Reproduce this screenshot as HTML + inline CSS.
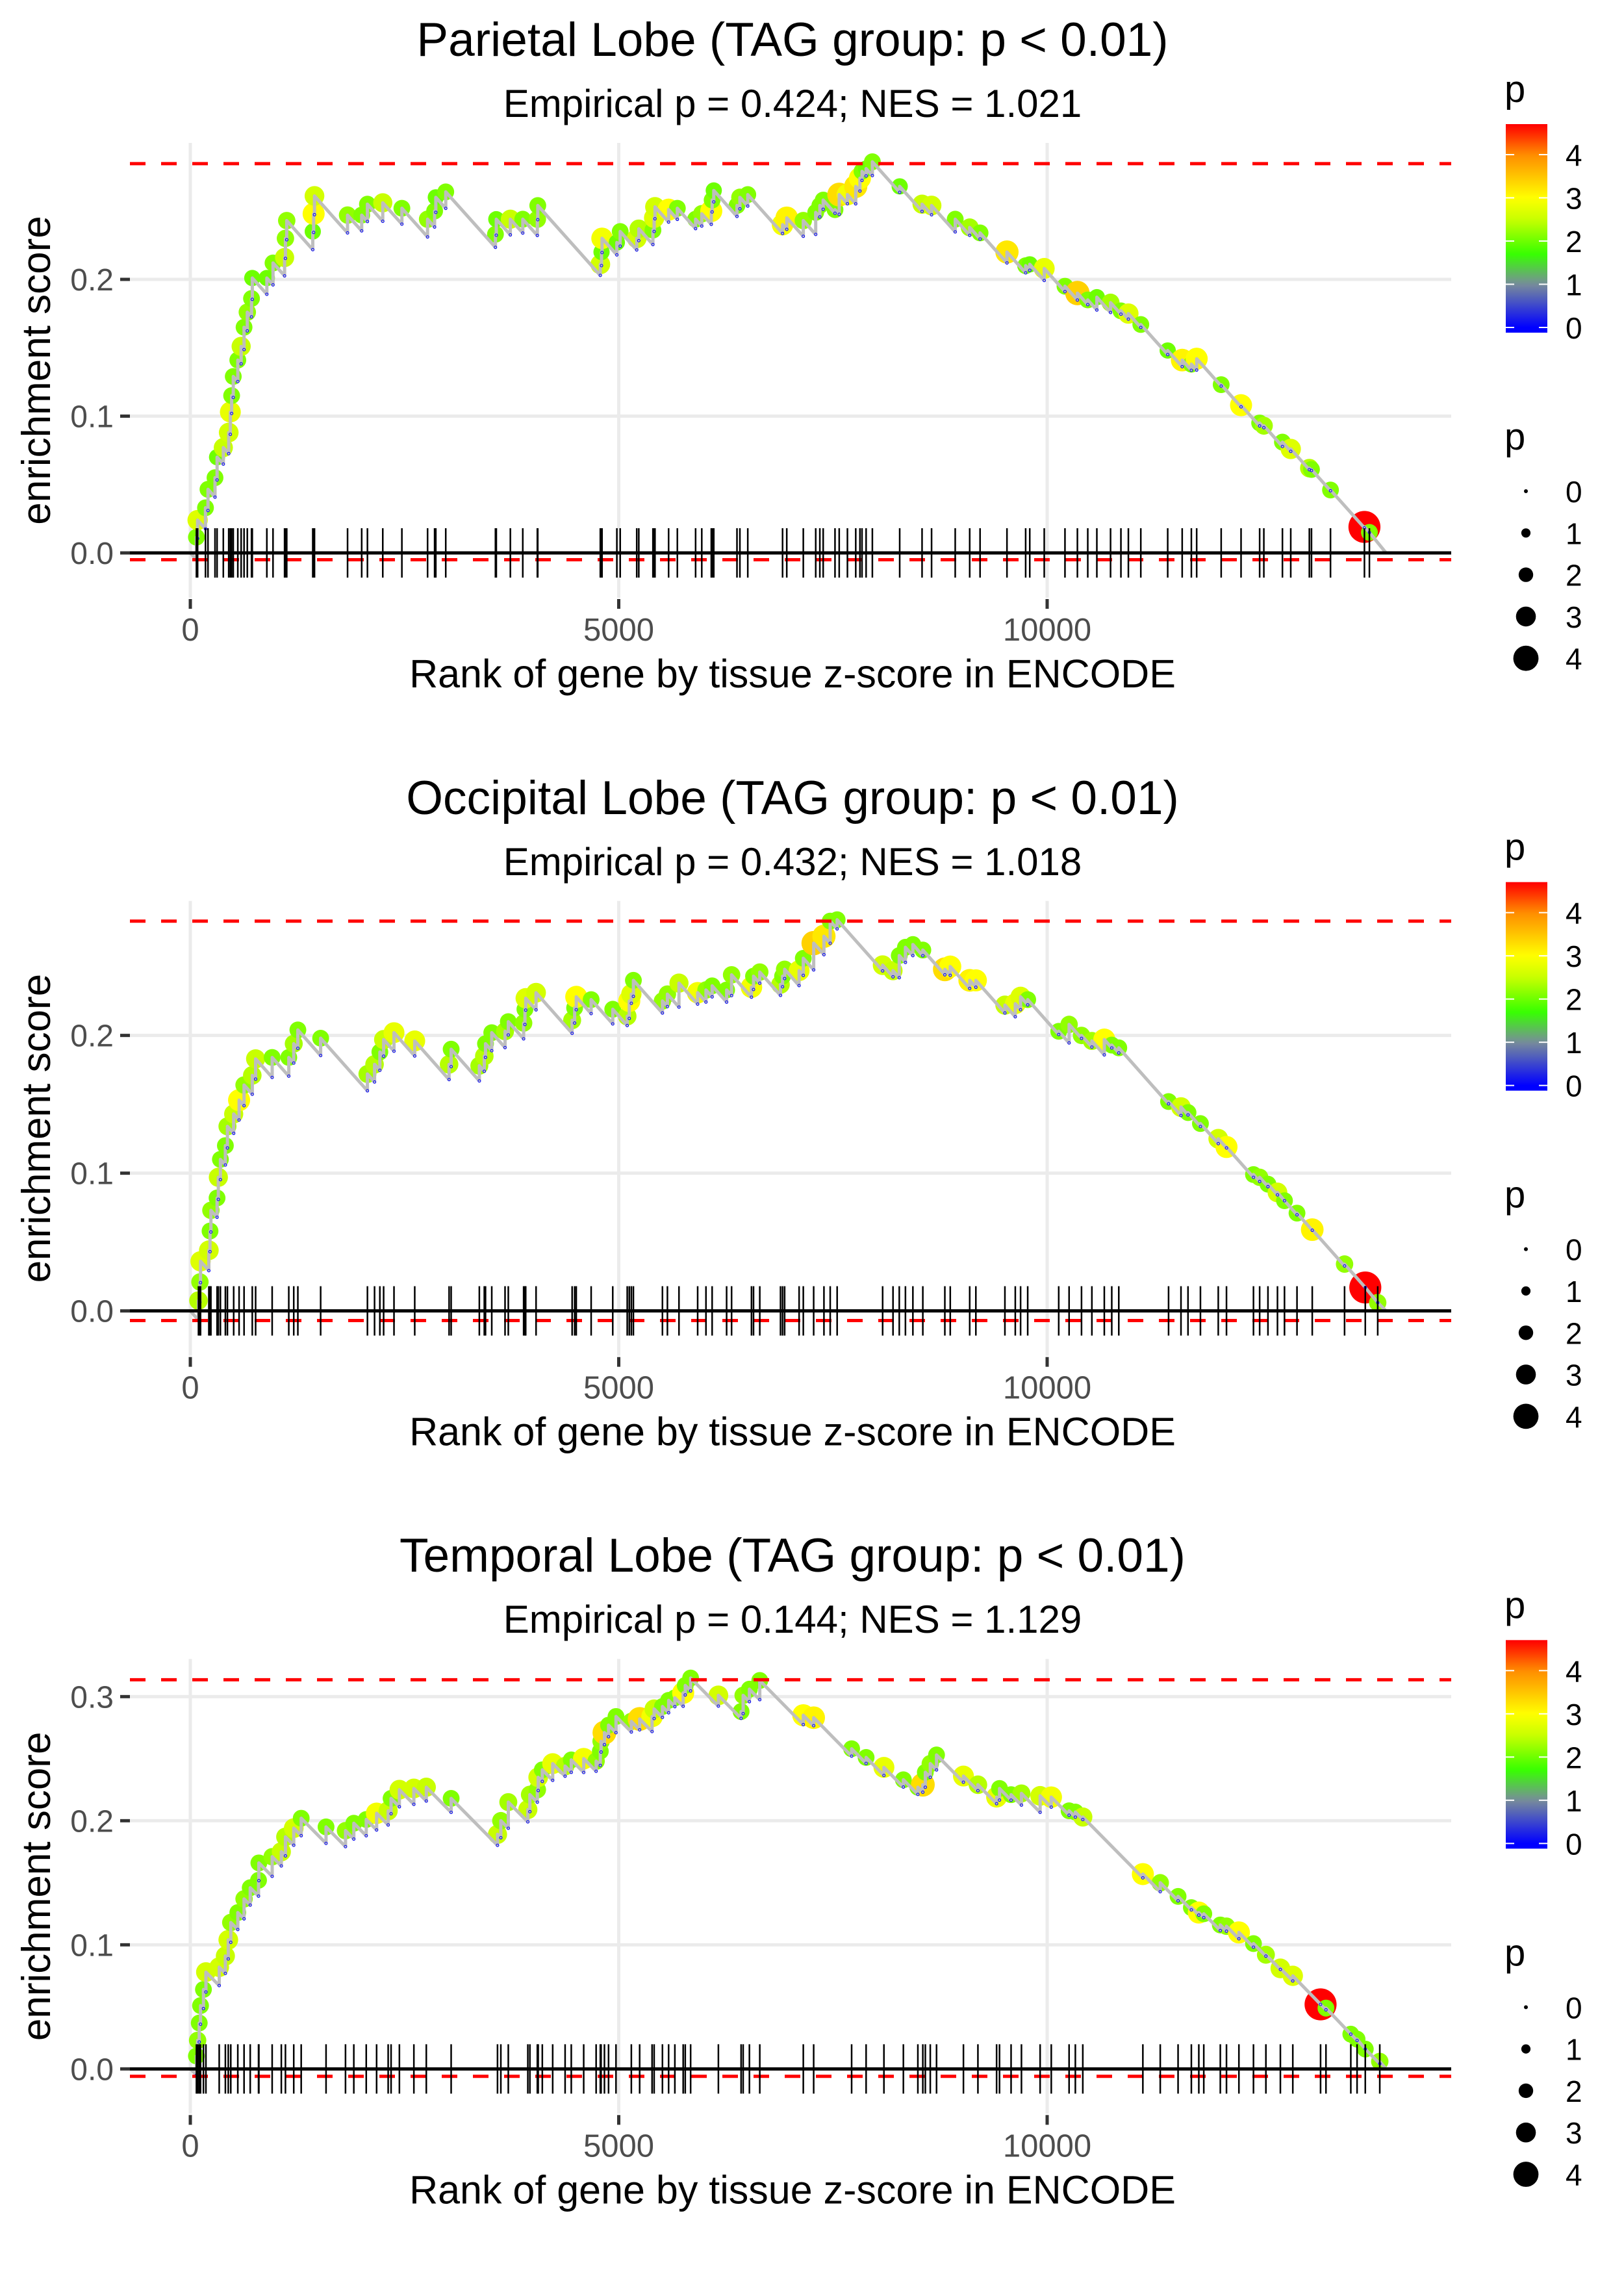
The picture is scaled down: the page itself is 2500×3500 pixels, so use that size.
<!DOCTYPE html>
<html>
<head>
<meta charset="utf-8">
<style>
html,body{margin:0;padding:0;background:#fff;}
svg{display:block;font-family:"Liberation Sans",sans-serif;}
</style>
</head>
<body>
<svg id="chart" xmlns="http://www.w3.org/2000/svg" width="2500" height="3500" viewBox="0 0 2500 3500">
<rect x="0" y="0" width="2500" height="3500" fill="#fff"/>
<text x="1220" y="86" font-size="73" text-anchor="middle">Parietal Lobe (TAG group: p &lt; 0.01)</text>
<text x="1220" y="180" font-size="60" text-anchor="middle">Empirical p = 0.424; NES = 1.021</text>
<text x="1220" y="1253" font-size="73" text-anchor="middle">Occipital Lobe (TAG group: p &lt; 0.01)</text>
<text x="1220" y="1347" font-size="60" text-anchor="middle">Empirical p = 0.432; NES = 1.018</text>
<text x="1220" y="2419" font-size="73" text-anchor="middle">Temporal Lobe (TAG group: p &lt; 0.01)</text>
<text x="1220" y="2513" font-size="60" text-anchor="middle">Empirical p = 0.144; NES = 1.129</text>
</svg>
<script>
// ---------- data ----------
const xTicks = [0, 5000, 10000];
const xTickLabels = ["0", "5000", "10000"];
const p1YTicks = [0, 0.1, 0.2];
const p1YTickLabels = ["0.0", "0.1", "0.2"];
const p2YTicks = [0, 0.1, 0.2];
const p2YTickLabels = ["0.0", "0.1", "0.2"];
const p3YTicks = [0, 0.1, 0.2, 0.3];
const p3YTickLabels = ["0.0", "0.1", "0.2", "0.3"];
const p1Bounds = [0.2846, -0.005];
const p2Bounds = [0.283, -0.007];
const p3Bounds = [0.3136, -0.006];
const p1End = 13955, p2End = 13955, p3End = 13955;
const declineRate = 0.00007;
const legendColorTicks = [0, 1, 2, 3, 4];
const legendSizeValues = [0, 1, 2, 3, 4];

const p1Ranks = [71,85,177,206,288,312,385,448,467,482,
501,554,593,627,665,714,723,893,965,1100,
1110,1125,1429,1439,1449,1835,2000,2067,2246,2469,
2769,2851,2865,2981,3561,3571,3735,3880,4050,4055,
4785,4799,4805,4978,5017,5210,5234,5399,5413,5423,
5582,5684,5897,5969,6080,6090,6109,6380,6414,6506,
6912,6961,7154,7299,7347,7386,7524,7573,7669,7766,
7815,7839,7887,7960,8279,8540,8651,8927,9096,9217,
9531,9749,9797,9966,10208,10353,10474,10580,10740,10861,
10948,11093,11407,11576,11683,11745,12031,12263,12480,12529,
12746,12843,13060,13085,13307,13703,13761];
const p1ES = [.0115,.024,.033,.0465,.055,.070,.077,.088,.103,.115,
.129,.141,.151,.165,.176,.186,.201,.201,.212,.216,
.230,.243,.235,.248,.261,.247,.247,.255,.256,.252,
.244,.250,.260,.264,.233,.244,.244,.244,.244,.254,
.211,.220,.230,.227,.235,.230,.237,.236,.245,.253,
.251,.252,.244,.248,.250,.258,.265,.254,.260,.262,
.240,.245,.243,.249,.254,.258,.251,.262,.262,.268,
.274,.279,.281,.286,.268,.255,.254,.244,.238,.234,
.220,.210,.211,.208,.195,.190,.185,.187,.183,.177,
.175,.167,.148,.141,.138,.142,.123,.108,.095,.093,
.081,.076,.062,.061,.046,.019,.015];
const p1P = [2.1,2.7,2.1,2.1,2.1,2.0,2.5,2.6,2.8,2.1,
2.1,2.1,2.5,2.1,2.2,2.1,2.0,2.0,2.1,2.5,
2.2,2.2,2.0,3.0,2.6,2.2,2.1,2.1,2.5,2.1,
2.2,2.1,2.0,2.1,2.1,2.0,2.5,2.1,2.2,2.1,
2.6,2.0,2.9,2.0,2.1,2.6,2.4,2.1,2.7,2.6,
3.0,2.1,2.1,2.2,3.0,2.1,2.0,2.1,2.2,2.1,
2.9,3.1,2.2,2.1,2.1,2.1,2.1,3.3,2.9,3.2,
3.0,2.1,2.0,2.1,2.0,2.5,2.6,2.1,2.3,2.1,
3.2,2.1,2.0,2.8,2.1,3.4,2.1,2.0,2.3,2.1,
2.7,2.1,2.0,3.1,2.1,3.0,2.1,3.0,2.1,2.3,
2.1,2.7,2.4,2.1,2.1,4.7,2.1];

const p2Ranks = [95,112,119,216,230,240,312,327,351,409,
433,506,569,627,723,762,955,1149,1207,1255,
1521,2067,2150,2212,2256,2377,2619,3020,3044,3373,
3431,3445,3518,3673,3711,3890,3905,3914,4035,4456,
4485,4504,4678,4930,5099,5123,5147,5171,5510,5568,
5703,5921,6018,6090,6259,6317,6549,6573,6646,6888,
6912,6936,7105,7154,7275,7395,7468,7549,8080,8201,
8274,8346,8433,8549,8806,8869,9096,9168,9507,9628,
9690,9773,10135,10256,10401,10522,10667,10754,10836,11417,
11562,11644,11789,11997,12093,12408,12480,12577,12688,12770,
12916,13094,13471,13713,13858];
const p2ES = [.0075,.021,.036,.044,.058,.073,.082,.097,.110,.120,
.134,.143,.153,.164,.171,.183,.184,.184,.194,.204,
.198,.172,.179,.188,.197,.202,.196,.179,.190,.178,
.185,.194,.202,.203,.210,.209,.219,.227,.231,.211,
.220,.228,.226,.219,.214,.225,.230,.240,.225,.230,
.238,.231,.233,.236,.233,.244,.235,.243,.246,.237,
.243,.248,.247,.256,.267,.272,.283,.284,.251,.247,
.258,.264,.266,.262,.248,.250,.240,.240,.222,.223,
.228,.226,.203,.208,.200,.196,.197,.193,.191,.152,
.148,.144,.136,.125,.119,.099,.097,.092,.086,.080,
.071,.059,.034,.017,.006];
const p2P = [2.4,2.2,2.7,2.6,2.1,2.2,2.1,2.5,2.1,2.1,
2.3,2.5,3.0,2.2,2.4,2.5,2.1,2.1,2.3,2.1,
2.1,2.3,2.4,2.1,2.5,2.8,2.8,2.4,2.1,2.3,
2.4,2.1,2.1,2.3,2.1,2.2,2.1,2.7,2.6,2.3,
2.1,3.0,2.1,2.1,2.4,3.0,2.7,2.1,2.2,2.2,
2.5,2.9,2.2,2.1,2.1,2.2,2.9,2.1,2.2,2.4,
2.1,2.2,2.8,2.1,3.4,3.2,2.1,2.1,2.6,2.5,
2.1,2.1,2.1,2.1,3.3,3.0,3.1,3.0,2.5,2.8,
2.7,2.1,2.1,2.2,2.2,2.3,3.0,2.1,2.1,2.1,
2.6,2.1,2.1,2.6,3.0,2.1,2.2,2.1,2.6,2.1,
2.1,3.1,2.2,4.7,2.2];

const p3Ranks = [71,85,104,119,153,182,337,409,443,472,
554,627,699,796,800,955,1062,1110,1207,1294,
1584,1811,1908,2053,2174,2309,2343,2440,2609,2754,
3044,3585,3624,3711,3939,3963,4050,4060,4108,4229,
4374,4446,4591,4736,4785,4794,4833,4881,4968,5147,
5244,5389,5413,5510,5582,5655,5752,5776,5839,6163,
6428,6452,6525,6646,7154,7275,7718,7887,8095,8322,
8491,8549,8578,8636,8709,9023,9192,9410,9444,9579,
9700,9918,10048,10256,10329,10416,11117,11320,11528,11683,
11770,11828,12021,12093,12238,12408,12553,12722,12867,13191,
13254,13544,13617,13713,13882];
const p3ES = [.0104,.023,.037,.051,.064,.078,.082,.091,.104,.118,
.126,.137,.146,.152,.166,.171,.175,.187,.194,.202,
.195,.192,.198,.201,.206,.208,.218,.225,.226,.227,
.218,.189,.200,.215,.209,.221,.225,.235,.241,.246,
.244,.249,.250,.248,.256,.264,.271,.277,.284,.280,
.282,.284,.290,.292,.297,.299,.303,.309,.315,.301,
.288,.301,.306,.313,.285,.283,.258,.251,.243,.233,
.227,.229,.239,.246,.253,.236,.229,.219,.226,.221,
.222,.220,.219,.208,.207,.203,.157,.150,.139,.130,
.126,.125,.116,.115,.110,.101,.092,.081,.075,.052,
.049,.028,.024,.016,.006];
const p3P = [2.1,2.2,2.1,2.1,2.1,2.6,2.6,2.5,2.6,2.2,
2.1,2.2,2.1,2.1,2.1,2.2,2.5,2.4,2.6,2.1,
2.1,2.2,2.1,2.1,2.9,2.5,2.1,2.6,2.6,2.5,
2.1,2.5,2.2,2.3,2.5,2.3,2.2,2.6,2.1,2.8,
2.4,2.1,2.9,2.2,2.1,2.2,3.3,2.1,2.1,2.2,
3.3,2.9,2.5,2.1,2.1,2.1,3.0,2.1,2.1,2.6,
2.1,2.2,2.1,2.1,3.0,3.1,2.1,2.1,2.8,2.1,
2.1,3.3,2.1,2.2,2.1,2.8,2.4,2.8,2.1,2.1,
2.3,2.6,2.9,2.1,2.1,2.5,3.0,2.2,2.1,2.1,
3.0,2.1,2.1,2.2,3.0,2.1,2.3,2.6,2.7,4.7,
2.1,2.1,2.1,2.1,2.2];

// ---------- drawing ----------
const NS = "http://www.w3.org/2000/svg";
const svg = document.getElementById("chart");
const PLOT_L = 200, PLOT_R = 2234, PLOT_T = 220, PLOT_B = 920, ZERO_Y = 851;
const PANEL_H = 3500 / 3;

function mk(tag, attrs, parent) {
  const el = document.createElementNS(NS, tag);
  for (const k in attrs) el.setAttribute(k, attrs[k]);
  (parent || svg).appendChild(el);
  return el;
}
const colorStops = [[0,[0,0,255]],[1,[120,140,155]],[1.7,[55,255,0]],[2.5,[200,255,0]],[3,[255,255,0]],[4,[255,140,0]],[4.7,[255,0,0]]];
function pColor(p) {
  if (p <= colorStops[0][0]) return "rgb(0,0,255)";
  for (let i = 1; i < colorStops.length; i++) {
    if (p <= colorStops[i][0]) {
      const a = colorStops[i-1], b = colorStops[i];
      const t = (p - a[0]) / (b[0] - a[0]);
      const c = a[1].map((v, j) => Math.round(v + (b[1][j] - v) * t));
      return "rgb(" + c.join(",") + ")";
    }
  }
  return "rgb(255,0,0)";
}
function pRadius(p) { return 3 + 4.1 * p; }
function pointRadius(p) { return 3.5 + 4.5 * p; }

function drawPanel(idx, ranks, es, ps, yTicks, yTickLabels, bounds, endRank, yUnit) {
  const oy = idx * PANEL_H;
  const xs = r => 293 + r * 0.1319;
  const ys = v => oy + ZERO_Y - v * yUnit;
  const g = mk("g", {});
  
  

  yTicks.forEach((t, i) => {
    const l = mk("line", {x1: PLOT_L, x2: PLOT_R, y1: ys(t), y2: ys(t), stroke: "#ebebeb", "stroke-width": 5}, g);
    
    
    const tk = mk("line", {x1: PLOT_L - 15, x2: PLOT_L, y1: ys(t), y2: ys(t), stroke: "#333", "stroke-width": 5}, g);
    
    
    const tx = mk("text", {x: PLOT_L - 25, y: ys(t) + 17, "font-size": 48, fill: "#4d4d4d", "text-anchor": "end"}, g);
    tx.textContent = yTickLabels[i];
    
    
  });
  xTicks.forEach((t, i) => {
    const l = mk("line", {x1: xs(t), x2: xs(t), y1: oy + PLOT_T, y2: oy + PLOT_B, stroke: "#ebebeb", "stroke-width": 5}, g);
    
    
    const tk = mk("line", {x1: xs(t), x2: xs(t), y1: oy + PLOT_B + 2, y2: oy + PLOT_B + 17, stroke: "#333", "stroke-width": 5}, g);
    
    
    const tx = mk("text", {x: xs(t), y: oy + 986, "font-size": 49, fill: "#4d4d4d", "text-anchor": "middle"}, g);
    tx.textContent = xTickLabels[i];
    
    
  });

  ranks.forEach((r, i) => {
    const p = ps[i] !== undefined ? ps[i] : 2.2;
    const c = mk("circle", {cx: xs(r), cy: ys(es[i]), r: pointRadius(p), fill: pColor(p)}, g);
    
    
  });

  let d = "M" + xs(0) + " " + ys(0);
  let prevTop = 0, prevRank = 0;
  const bottoms = [];
  ranks.forEach((r, i) => {
    let bot = prevTop - declineRate * (r - prevRank);
    if (bot > es[i]) bot = es[i];
    bottoms.push(bot);
    d += " L" + xs(r).toFixed(1) + " " + ys(bot).toFixed(1) + " L" + xs(r).toFixed(1) + " " + ys(es[i]).toFixed(1);
    prevTop = es[i]; prevRank = r;
  });
  d += " L" + xs(endRank).toFixed(1) + " " + ys(0).toFixed(1);
  const path = mk("path", {d: d, fill: "none", stroke: "#bebebe", "stroke-width": 5, "stroke-linejoin": "round"}, g);
  
  

  ranks.forEach((r, i) => {
    const c = mk("circle", {cx: xs(r), cy: ys(bottoms[i]), r: 2, fill: "none", stroke: "#0000ff", "stroke-width": 1}, g);
    
    
  });

  const zl = mk("line", {x1: PLOT_L, x2: PLOT_R, y1: ys(0), y2: ys(0), stroke: "#000", "stroke-width": 5}, g);
  
  

  bounds.forEach((b, i) => {
    const l = mk("line", {x1: PLOT_L, x2: PLOT_R, y1: ys(b), y2: ys(b), stroke: "#ff0000", "stroke-width": 5, "stroke-dasharray": "24 24"}, g);
    
    
  });

  ranks.forEach(r => {
    const l = mk("line", {x1: xs(r), x2: xs(r), y1: ys(0) - 38, y2: ys(0) + 38, stroke: "#000", "stroke-width": 2.5}, g);
    
    
  });

  const xl = mk("text", {x: 1220, y: oy + 1058, "font-size": 61, "text-anchor": "middle", fill: "#000"}, g);
  xl.textContent = "Rank of gene by tissue z-score in ENCODE";
  
  
  const yl = mk("text", {x: 0, y: 0, "font-size": 62, "text-anchor": "middle", fill: "#000", transform: "translate(77," + (oy + 570) + ") rotate(-90)"}, g);
  yl.textContent = "enrichment score";
  
  

  const gradId = "grad" + idx;
  const defs = mk("defs", {}, g);
  const lg = mk("linearGradient", {id: gradId, x1: 0, y1: 1, x2: 0, y2: 0}, defs);
  const pBot = -0.12, pTop = 4.71;
  for (let k = 0; k <= 40; k++) {
    const pv = pBot + (pTop - pBot) * k / 40;
    mk("stop", {offset: (k / 40).toFixed(3), "stop-color": pColor(pv)}, lg);
  }
  const ct = mk("text", {x: 2316, y: oy + 157, "font-size": 58, fill: "#000"}, g);
  ct.textContent = "p";
  
  
  const bar = mk("rect", {x: 2318, y: oy + 191, width: 64, height: 321, fill: "url(#" + gradId + ")"}, g);
  
  
  legendColorTicks.forEach(t => {
    const yy = oy + 504 - t * 66.5;
    mk("line", {x1: 2318, x2: 2331, y1: yy, y2: yy, stroke: "#fff", "stroke-width": 2}, g);
    mk("line", {x1: 2369, x2: 2382, y1: yy, y2: yy, stroke: "#fff", "stroke-width": 2}, g);
    const tx = mk("text", {x: 2410, y: yy + 17, "font-size": 46, fill: "#000"}, g);
    tx.textContent = String(t);
    
    
  });

  const st = mk("text", {x: 2316, y: oy + 692, "font-size": 58, fill: "#000"}, g);
  st.textContent = "p";
  
  
  legendSizeValues.forEach((v, k) => {
    const yy = oy + 756 + k * 64.3;
    const c = mk("circle", {cx: 2349, cy: yy, r: pRadius(v), fill: "#000"}, g);
    
    
    const tx = mk("text", {x: 2410, y: yy + 17, "font-size": 46, fill: "#000"}, g);
    tx.textContent = String(v);
    
    
  });
}

drawPanel(0, p1Ranks, p1ES, p1P, p1YTicks, p1YTickLabels, p1Bounds, p1End, 2105);
drawPanel(1, p2Ranks, p2ES, p2P, p2YTicks, p2YTickLabels, p2Bounds, p2End, 2120);
drawPanel(2, p3Ranks, p3ES, p3P, p3YTicks, p3YTickLabels, p3Bounds, p3End, 1910);
</script>
</body>
</html>
